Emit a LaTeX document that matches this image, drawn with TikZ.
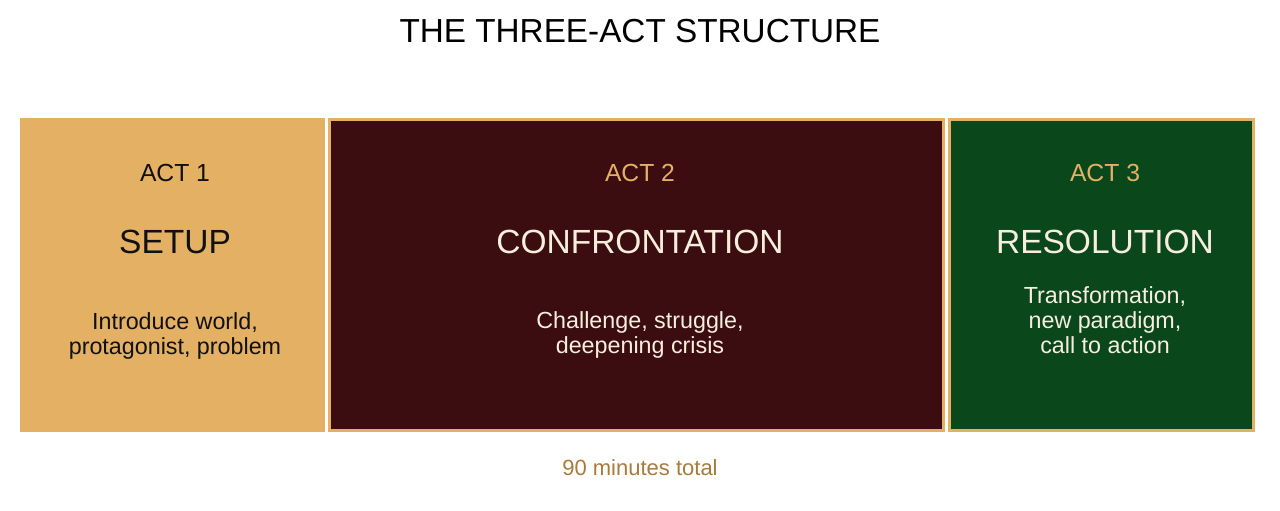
\documentclass[tikz,border=0pt]{standalone}
\usepackage{fontspec}
\setmainfont{Liberation Sans}
\definecolor{tan}{HTML}{E3B064}
\definecolor{darkred}{HTML}{3B0D11}
\definecolor{darkgreen}{HTML}{0A481C}
\definecolor{cream}{HTML}{F7EEDC}
\definecolor{footer}{HTML}{A87B3B}
\definecolor{ink}{HTML}{111111}
\tikzset{
  actbox/.style={draw=tan, line width=3pt},
  titletext/.style={anchor=base, inner sep=0pt, font=\fontsize{33.3}{38}\selectfont},
  actlabel/.style={anchor=base, inner sep=0pt, font=\fontsize{24.7}{28}\selectfont},
  maintext/.style={anchor=base, inner sep=0pt, font=\fontsize{33.5}{38}\selectfont},
  desctext/.style={anchor=base, inner sep=0pt, font=\fontsize{23.3}{25}\selectfont},
  foottext/.style={anchor=base, inner sep=0pt, font=\fontsize{22}{25}\selectfont, text=footer}
}
\begin{document}
\begin{tikzpicture}[x=1pt,y=-1pt]
\useasboundingbox[fill=white] (0,0) rectangle (1280,511);
% title
\node[titletext, text=black] (title) at (640,43) {THE THREE-ACT STRUCTURE};
% boxes
\path[actbox, fill=tan] (21.5,119.5) rectangle (323.5,430.5);
\path[actbox, fill=darkred] (329.5,119.5) rectangle (943.5,430.5);
\path[actbox, fill=darkgreen] (949.5,119.5) rectangle (1253.5,430.5);
% act 1
\node[actlabel, text=ink] (a1) at (175,181.5) {ACT 1};
\node[maintext, text=ink] (m1) at (175,253) {SETUP};
\node[desctext, text=ink] (d1a) at (175,329) {Introduce world,};
\node[desctext, text=ink] (d1b) at (175,354) {protagonist, problem};
% act 2
\node[actlabel, text=tan] (a2) at (640,181.5) {ACT 2};
\node[maintext, text=cream] (m2) at (640,253) {CONFRONTATION};
\node[desctext, text=cream] (d2a) at (640,328) {Challenge, struggle,};
\node[desctext, text=cream] (d2b) at (640,353) {deepening crisis};
% act 3
\node[actlabel, text=tan] (a3) at (1105,181.5) {ACT 3};
\node[maintext, text=cream] (m3) at (1105,253) {RESOLUTION};
\node[desctext, text=cream] (d3a) at (1105,303.5) {Transformation,};
\node[desctext, text=cream] (d3b) at (1105,328) {new paradigm,};
\node[desctext, text=cream] (d3c) at (1105,353) {call to action};
% footer
\node[foottext] (foot) at (640,475) {90 minutes total};
\end{tikzpicture}
\end{document}
